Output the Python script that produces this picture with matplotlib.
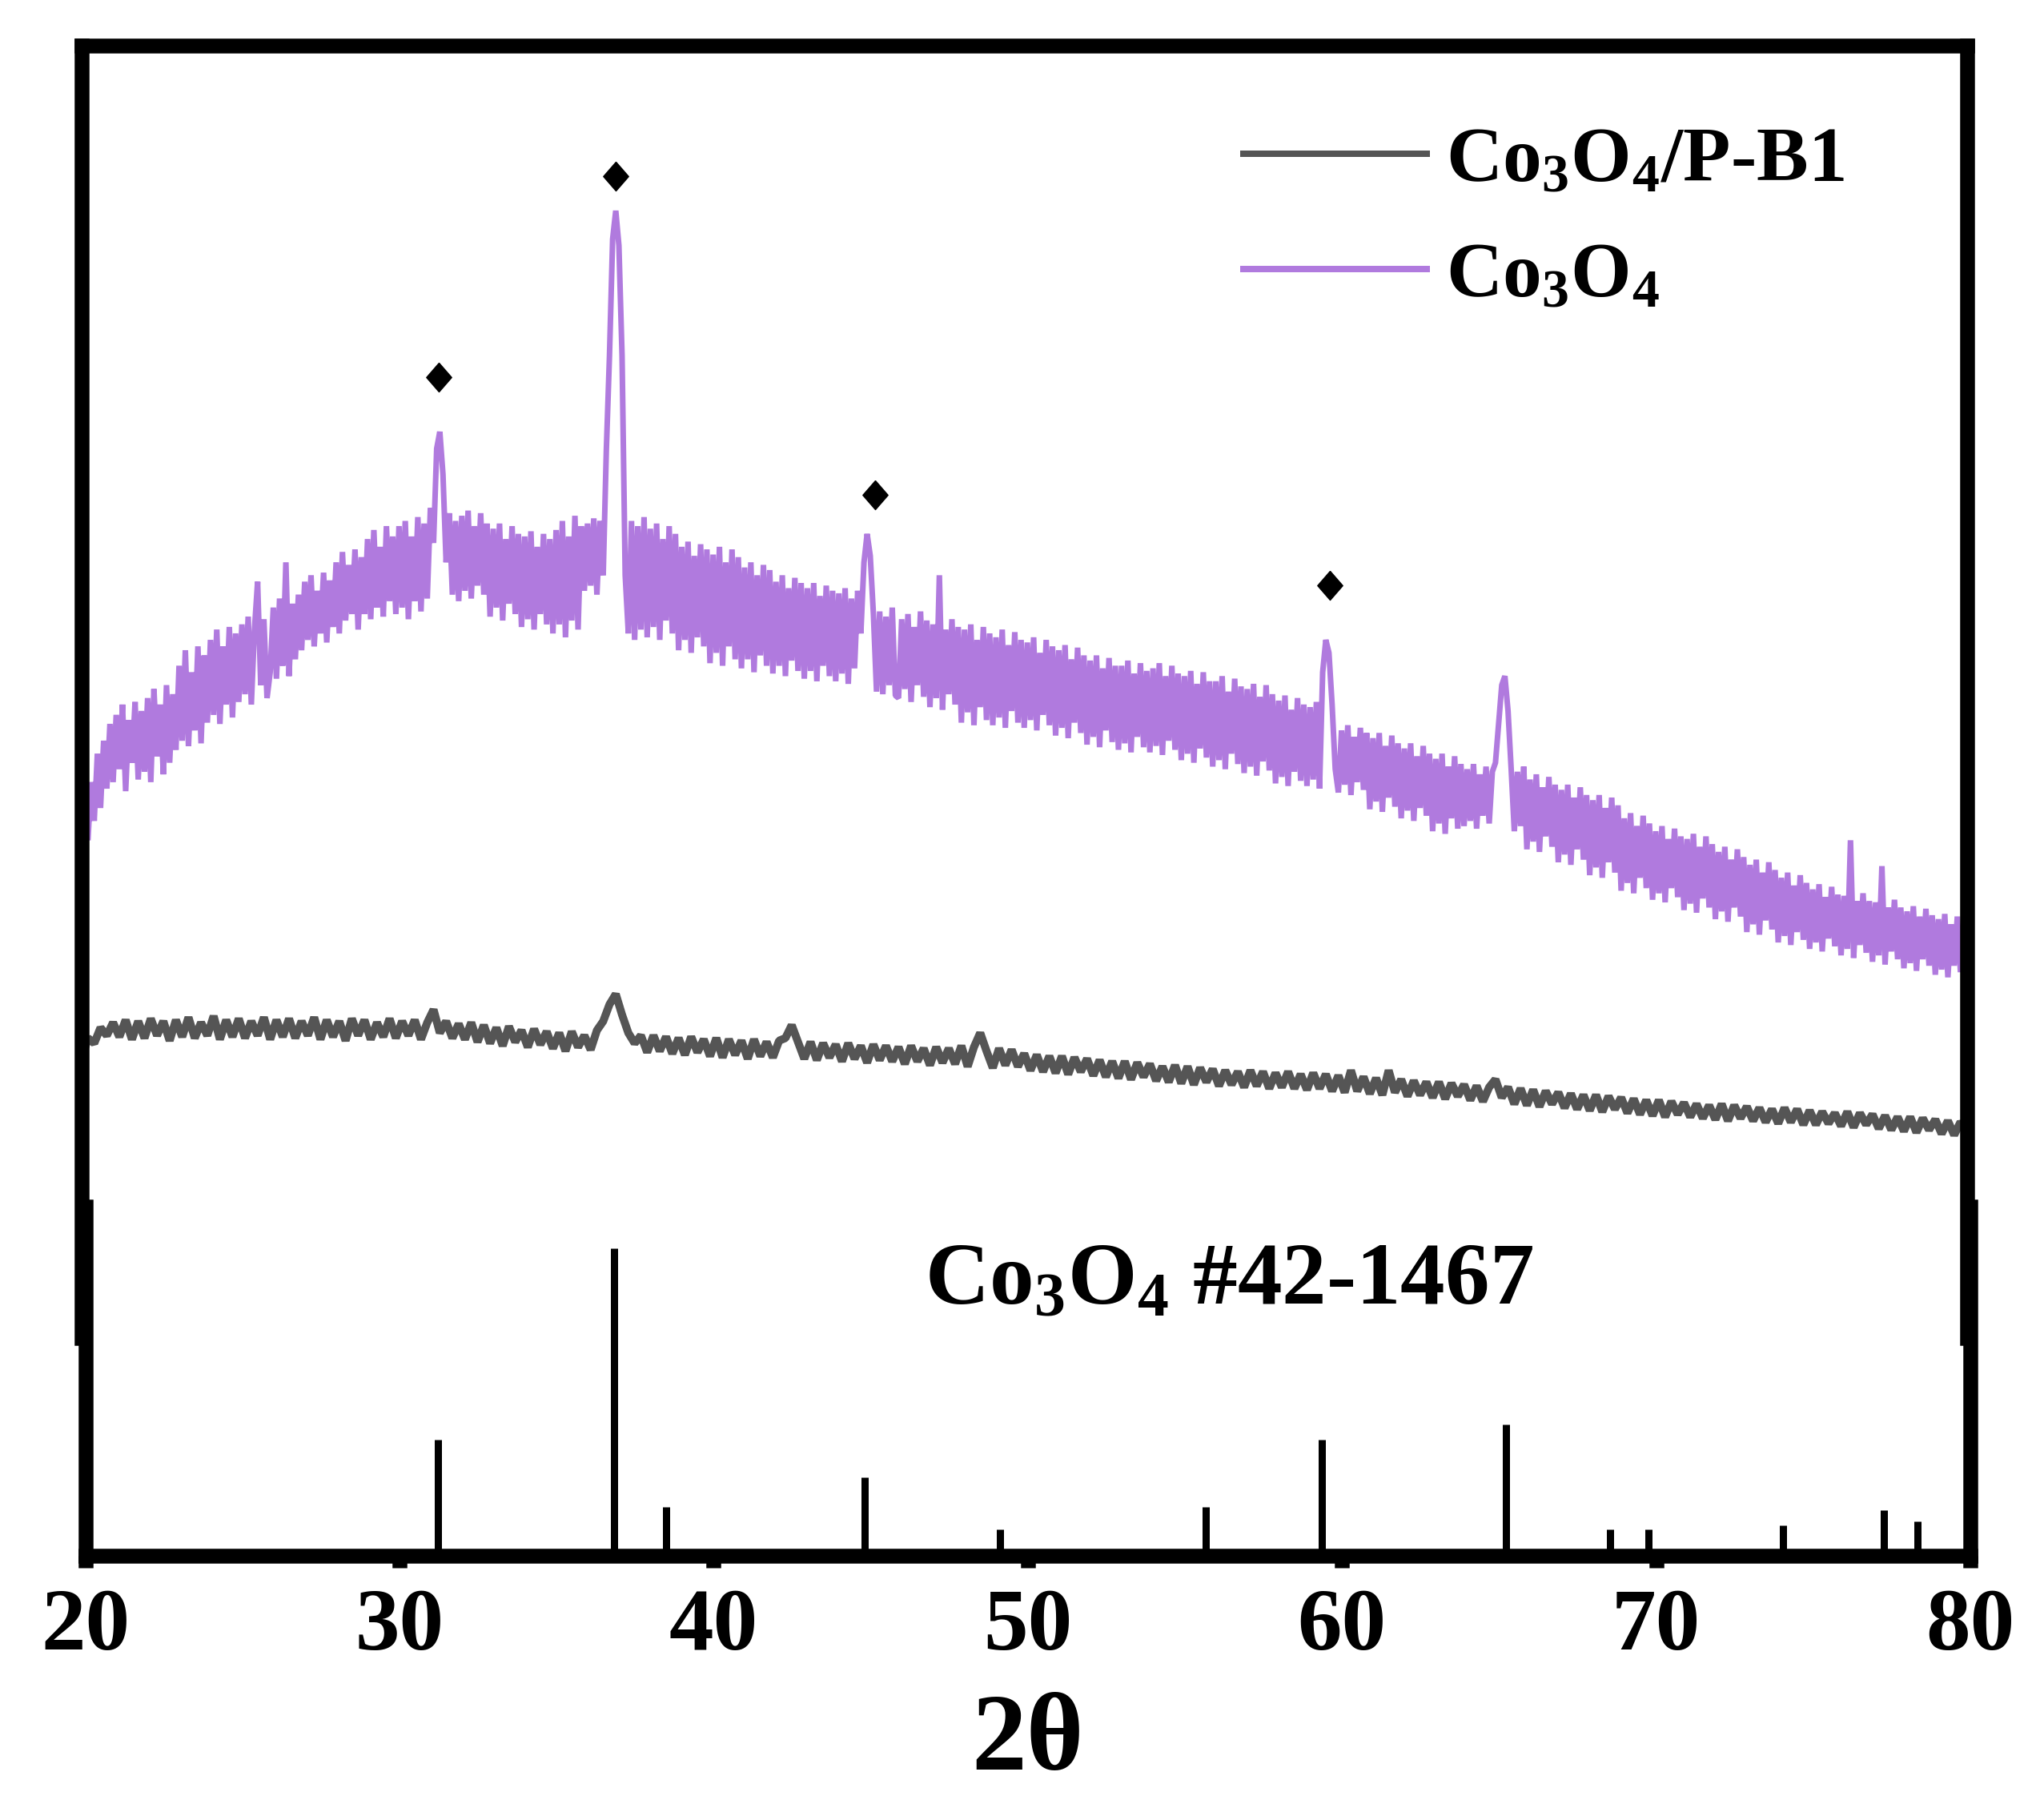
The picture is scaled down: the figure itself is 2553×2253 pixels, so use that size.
import numpy as np
import matplotlib
matplotlib.use('Agg')
import matplotlib.pyplot as plt

plt.rcParams['font.family'] = ['Liberation Serif', 'DejaVu Serif']
plt.rcParams['font.weight'] = 'bold'
plt.rcParams['axes.labelweight'] = 'bold'
plt.rcParams['mathtext.fontset'] = 'custom'
plt.rcParams['mathtext.rm'] = 'Liberation Serif:bold'
plt.rcParams['mathtext.it'] = 'Liberation Serif:italic:bold'
plt.rcParams['mathtext.bf'] = 'Liberation Serif:bold'

# --- data (intensity in arbitrary units) ---
# Co3O4, one row per degree, 0.1 deg steps
co3o4_rows = [
    [410, 440, 385, 430, 400, 452, 410, 462, 425, 475],  # 20
    [430, 482, 440, 490, 423, 478, 445, 492, 432, 485],  # 21
    [438, 495, 430, 502, 450, 490, 436, 505, 445, 498],  # 22
    [455, 520, 462, 532, 458, 515, 470, 535, 460, 528],  # 23
    [476, 540, 482, 548, 475, 535, 490, 550, 480, 545],  # 24
    [492, 552, 498, 558, 490, 548, 585, 505, 556, 495],  # 25
    [515, 565, 510, 572, 520, 600, 512, 568, 525, 575],  # 26
    [532, 585, 540, 590, 535, 578, 545, 592, 538, 586],  # 27
    [550, 600, 545, 608, 555, 598, 560, 610, 548, 604],  # 28
    [560, 618, 556, 625, 565, 612, 558, 628, 570, 620],  # 29
    [560, 628, 565, 632, 556, 620, 570, 635, 562, 630],  # 30
    [572, 642, 615, 688, 701, 668, 600, 638, 575, 632],  # 31
    [570, 636, 578, 640, 572, 628, 582, 638, 575, 630],  # 32
    [558, 626, 565, 630, 555, 618, 568, 628, 560, 622],  # 33
    [550, 620, 556, 624, 548, 612, 560, 622, 552, 618],  # 34
    [545, 625, 552, 632, 542, 620, 555, 636, 548, 628],  # 35
    [578, 630, 582, 634, 575, 632, 590, 687, 760, 850],  # 36
    [872, 845, 760, 590, 545, 632, 540, 628, 548, 635],  # 37
    [542, 626, 550, 630, 540, 618, 555, 628, 545, 622],  # 38
    [532, 612, 540, 616, 530, 605, 542, 614, 535, 610],  # 39
    [522, 606, 530, 612, 520, 600, 535, 610, 525, 604],  # 40
    [518, 596, 525, 600, 515, 590, 528, 598, 520, 594],  # 41
    [514, 585, 520, 590, 512, 580, 524, 588, 516, 584],  # 42
    [510, 580, 516, 584, 508, 574, 520, 582, 512, 578],  # 43
    [508, 576, 514, 580, 506, 572, 518, 578, 545, 600],  # 44
    [622, 605, 560, 500, 562, 498, 558, 505, 565, 497],  # 45
    [495, 556, 502, 560, 492, 550, 505, 562, 496, 555],  # 46
    [488, 552, 495, 590, 486, 548, 498, 556, 490, 550],  # 47
    [476, 548, 484, 552, 474, 540, 488, 550, 478, 545],  # 48
    [474, 542, 480, 548, 472, 536, 485, 546, 476, 540],  # 49
    [472, 538, 478, 542, 470, 530, 482, 540, 474, 535],  # 50
    [466, 532, 472, 536, 464, 525, 476, 534, 468, 528],  # 51
    [459, 524, 465, 528, 457, 518, 470, 526, 461, 520],  # 52
    [455, 520, 460, 524, 453, 514, 465, 522, 457, 516],  # 53
    [453, 518, 458, 522, 451, 512, 462, 520, 455, 514],  # 54
    [447, 512, 452, 516, 445, 506, 456, 515, 449, 508],  # 55
    [442, 508, 447, 512, 440, 500, 452, 510, 444, 504],  # 56
    [437, 502, 442, 506, 435, 496, 446, 505, 439, 498],  # 57
    [429, 493, 434, 497, 427, 486, 438, 495, 431, 490],  # 58
    [427, 488, 432, 492, 425, 515, 540, 530, 490, 440],  # 59
    [422, 470, 428, 474, 420, 465, 430, 472, 424, 468],  # 60
    [409, 464, 415, 468, 407, 458, 418, 466, 411, 460],  # 61
    [402, 456, 408, 460, 400, 450, 410, 458, 404, 452],  # 62
    [392, 448, 398, 452, 390, 442, 402, 450, 394, 444],  # 63
    [396, 440, 400, 444, 394, 436, 404, 442, 398, 438],  # 64
    [445, 475, 505, 512, 485, 440, 392, 438, 396, 442],  # 65
    [378, 432, 384, 436, 376, 426, 388, 434, 380, 428],  # 66
    [368, 424, 374, 428, 366, 418, 378, 426, 370, 420],  # 67
    [358, 416, 364, 420, 356, 410, 368, 418, 360, 412],  # 68
    [346, 402, 352, 406, 344, 396, 356, 404, 348, 398],  # 69
    [339, 392, 344, 396, 337, 386, 348, 394, 341, 388],  # 70
    [331, 386, 336, 390, 329, 380, 340, 388, 333, 382],  # 71
    [324, 376, 330, 380, 322, 370, 333, 378, 326, 372],  # 72
    [314, 366, 320, 370, 312, 360, 323, 368, 316, 362],  # 73
    [306, 356, 311, 360, 304, 350, 314, 358, 308, 352],  # 74
    [301, 347, 306, 351, 299, 341, 309, 349, 303, 343],  # 75
    [296, 342, 301, 385, 294, 338, 304, 344, 298, 338],  # 76
    [291, 337, 296, 365, 289, 333, 299, 339, 293, 333],  # 77
    [286, 330, 290, 334, 284, 326, 293, 332, 288, 327],  # 78
    [281, 324, 285, 328, 279, 320, 288, 326, 283, 321],  # 79
]
co3o4_last = 300
co3o4 = np.array([v for row in co3o4_rows for v in row] + [co3o4_last])
tt_co3o4 = np.linspace(20, 80, len(co3o4))

# Co3O4/P-B1, one row per degree, 0.2 deg steps
pb1_rows = [
    [216, 232, 228, 240, 234],  # 20
    [244, 233, 246, 231, 245],  # 21
    [232, 247, 234, 245, 230],  # 22
    [246, 233, 248, 232, 244],  # 23
    [234, 249, 231, 246, 233],  # 24
    [247, 232, 245, 234, 248],  # 25
    [231, 246, 233, 247, 232],  # 26
    [245, 234, 248, 231, 246],  # 27
    [233, 245, 230, 247, 234],  # 28
    [246, 231, 244, 233, 247],  # 29
    [232, 245, 234, 246, 231],  # 30
    [244, 254, 236, 245, 232],  # 31
    [243, 231, 244, 229, 242],  # 32
    [228, 240, 226, 241, 229],  # 33
    [238, 225, 239, 227, 237],  # 34
    [224, 236, 222, 237, 225],  # 35
    [234, 223, 238, 245, 258],  # 36
    [266, 250, 236, 228, 234],  # 37
    [221, 234, 222, 233, 220],  # 38
    [232, 219, 233, 221, 231],  # 39
    [218, 232, 217, 231, 219],  # 40
    [230, 216, 231, 218, 229],  # 41
    [217, 230, 232, 242, 229],  # 42
    [216, 229, 215, 228, 217],  # 43
    [227, 214, 228, 216, 226],  # 44
    [213, 227, 215, 226, 214],  # 45
    [225, 212, 226, 214, 224],  # 46
    [211, 225, 213, 224, 212],  # 47
    [226, 210, 225, 236, 222],  # 48
    [209, 224, 211, 223, 210],  # 49
    [220, 207, 219, 206, 218],  # 50
    [205, 218, 204, 217, 206],  # 51
    [216, 203, 215, 202, 214],  # 52
    [201, 214, 200, 213, 202],  # 53
    [212, 199, 210, 198, 211],  # 54
    [197, 210, 196, 209, 198],  # 55
    [208, 195, 207, 196, 206],  # 56
    [194, 207, 195, 206, 193],  # 57
    [205, 194, 206, 193, 204],  # 58
    [192, 205, 193, 204, 191],  # 59
    [203, 190, 207, 191, 202],  # 60
    [189, 201, 188, 207, 190],  # 61
    [200, 187, 199, 188, 198],  # 62
    [186, 198, 185, 197, 187],  # 63
    [196, 184, 195, 183, 194],  # 64
    [200, 186, 194, 181, 193],  # 65
    [180, 192, 179, 191, 181],  # 66
    [190, 178, 189, 177, 188],  # 67
    [176, 188, 175, 187, 177],  # 68
    [186, 174, 185, 173, 184],  # 69
    [172, 184, 171, 183, 173],  # 70
    [182, 171, 181, 170, 180],  # 71
    [169, 181, 168, 180, 170],  # 72
    [179, 168, 178, 167, 177],  # 73
    [166, 178, 167, 177, 165],  # 74
    [176, 165, 175, 166, 174],  # 75
    [164, 175, 163, 174, 165],  # 76
    [173, 162, 172, 161, 171],  # 77
    [160, 171, 159, 170, 161],  # 78
    [169, 158, 168, 157, 167],  # 79
]
pb1_last = 162
pb1 = np.array([v for row in pb1_rows for v in row] + [pb1_last])
tt_pb1 = np.linspace(20, 80, len(pb1))

# diamond markers over the Co3O4 peaks
peak_tt = [31.37, 36.99, 45.25, 59.72]
peak_y = [743, 899, 652, 582]

# reference pattern Co3O4 #42-1467 (relative intensity)
ref_tt = [31.23, 36.83, 38.49, 44.82, 49.12, 55.67, 59.35, 65.22, 68.53, 69.75, 74.04, 77.25, 78.32]
ref_int = [37.7, 100, 15.8, 25.4, 8.5, 15.8, 37.7, 42.6, 8.5, 8.5, 9.8, 14.7, 11.0]

xticks = [20, 30, 40, 50, 60, 70, 80]

W, H = 2553, 2253
DPI = 100
PX = 72 / DPI  # points per pixel
purple = '#B07ADE'
grey = '#555555'

fig = plt.figure(figsize=(W / DPI, H / DPI), dpi=DPI)
ax_top = fig.add_axes([102 / W, 1 - 1671 / H, 2354.5 / W, 1614.5 / H])
ax_bot = fig.add_axes([106.5 / W, 1 - 1942.5 / H, 2354.5 / W, 435.5 / H])
for ax in (ax_top, ax_bot):
    ax.set_facecolor('none')
    for sp in ax.spines.values():
        sp.set_linewidth(18.5 * PX)
    ax.set_xlim(20, 80)

# top panel: measured patterns
l1, = ax_top.plot(tt_pb1, pb1, color=grey, lw=10 * PX, solid_joinstyle='bevel',
                  label=r'Co$_3$O$_4$/P-B1')
l2, = ax_top.plot(tt_co3o4, co3o4, color=purple, lw=7 * PX, solid_joinstyle='bevel',
                  label=r'Co$_3$O$_4$')
diamond = [(0, 1.15), (1, 0), (0, -1.15), (-1, 0), (0, 1.15)]
ax_top.plot(peak_tt, peak_y, ls='none', marker=diamond, ms=26, color='black')
ax_top.set_ylim(0, 1000)
ax_top.spines['bottom'].set_visible(False)
ax_top.tick_params(bottom=False, left=False, labelbottom=False, labelleft=False)

leg = ax_top.legend(handles=[l1, l2], loc='upper left', bbox_to_anchor=(0.6163, 0.937),
                    frameon=False, fontsize=70, handlelength=2.35, handletextpad=0.25,
                    labelspacing=0.56, borderpad=0, borderaxespad=0)
for line in leg.get_lines():
    line.set_linewidth(8 * PX)

# bottom panel: reference sticks
ax_bot.vlines(ref_tt, 0, ref_int, colors='black', lw=9 * PX, capstyle='butt')
ax_bot.set_ylim(0, 113.6)
ax_bot.spines['top'].set_visible(False)
ax_bot.set_xticks(xticks)
ax_bot.set_yticks([])
ax_bot.tick_params(axis='x', direction='out', length=14.5 * PX, width=18.5 * PX,
                   pad=19, labelsize=80)
ax_bot.text(46.72, 81.9, r'Co$_3$O$_4$ #42-1467', fontsize=80, ha='left', va='baseline')
ax_bot.set_xlabel('2θ', fontsize=99, fontweight='bold', labelpad=22)

fig.savefig('out.png', dpi=DPI)
